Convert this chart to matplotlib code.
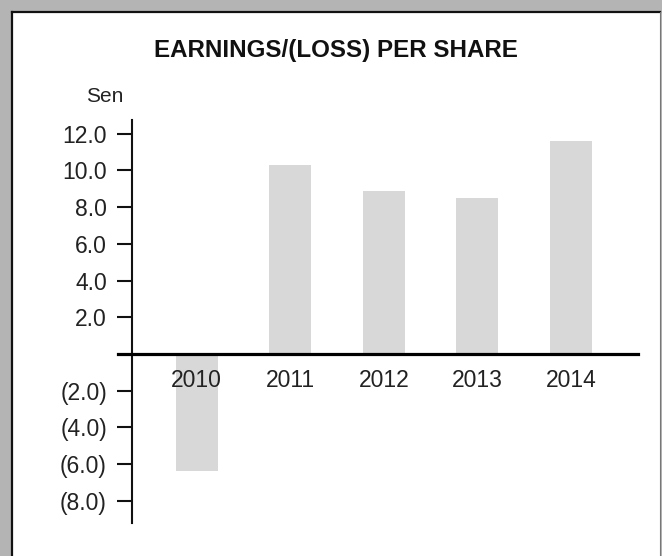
import matplotlib.pyplot as plt
import matplotlib as mpl
from matplotlib.patches import Rectangle
from matplotlib.lines import Line2D
import numpy as np

plt.rcParams['font.family'] = ['Liberation Sans', 'DejaVu Sans']

# data (sen per share)
years = ['2010', '2011', '2012', '2013', '2014']
eps_sen = [-6.4, 10.3, 8.9, 8.5, 11.6]
yticks = [-8, -6, -4, -2, 2, 4, 6, 8, 10, 12]

W, H = 662, 556
fig = plt.figure(figsize=(W/100, H/100), dpi=100)
fig.patch.set_facecolor('#b4b4b4')

# white panel on the stone-grey background
fig.add_artist(Rectangle((12/W, 0), (660-12)/W, 1-12/H, transform=fig.transFigure,
                         facecolor='white', edgecolor='none', zorder=0))
fig.add_artist(Line2D([12/W, 12/W], [0, 1-12/H], transform=fig.transFigure,
                      color='#111111', lw=1.6))
fig.add_artist(Line2D([12/W, 660/W], [1-12/H, 1-12/H], transform=fig.transFigure,
                      color='#111111', lw=1.6))
fig.add_artist(Line2D([660/W, 660/W], [0, 1-12/H], transform=fig.transFigure,
                      color='#777777', lw=0.8))

# axes placed in pixel terms
x0, x1 = 131.7, 638.3
ytop, ybot = 120, 522.7
ax = fig.add_axes([x0/W, (H-ybot)/H, (x1-x0)/W, (ybot-ytop)/H])
ax.patch.set_alpha(0)

xpos = np.arange(len(years))
step, c0 = 93.6, 196.6
ax.set_xlim((x0-c0)/step, (x1-c0)/step)
ax.set_ylim(-9.2, 12.75)

ax.bar(xpos, eps_sen, width=0.45, color='#d8d8d8', zorder=1)

# zero line, sticking out a bit to the left of the y axis
ax.axhline(0, xmin=(117.7-x0)/(x1-x0), xmax=1, color='black', lw=2.3,
           clip_on=False, zorder=3)

for s in ['top', 'right', 'bottom']:
    ax.spines[s].set_visible(False)
ax.spines['left'].set_linewidth(1.5)
ax.spines['left'].set_color('#111111')

ax.set_xticks([])
ax.set_yticks(yticks)
ax.set_yticklabels(['({:.1f})'.format(-v) if v < 0 else '{:.1f}'.format(v) for v in yticks])
ax.tick_params(axis='y', length=10.8, width=1.5, pad=7, labelsize=16.5,
               color='#111111', labelcolor='#222222')

for xi, yr in zip(xpos, years):
    ax.annotate(yr, xy=(xi, 0), xytext=(0, -19), textcoords='offset points',
                ha='center', va='center', fontsize=16.5, color='#222222')

fig.text(335.5/W, 1-50/H, 'EARNINGS/(LOSS) PER SHARE', ha='center', va='center',
         fontsize=17.4, fontweight='bold', color='#111111')
fig.text(105/W, 1-97/H, 'Sen', ha='center', va='center', fontsize=15, color='#222222')

plt.savefig('out.png', dpi=100, facecolor=fig.get_facecolor())
